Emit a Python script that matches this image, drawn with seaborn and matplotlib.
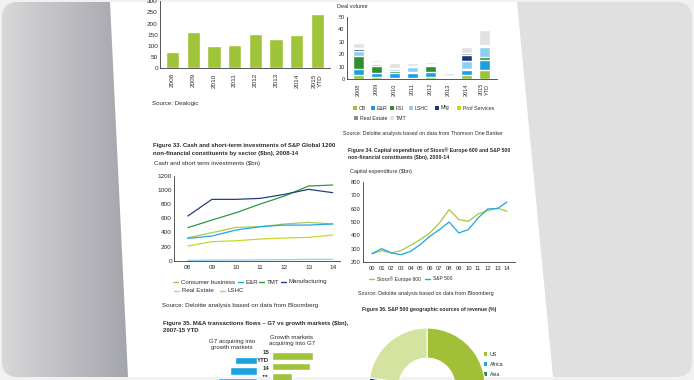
import numpy as np
import pandas as pd
import matplotlib
matplotlib.use("Agg")
import matplotlib.pyplot as plt
import seaborn as sns
from matplotlib.colors import LinearSegmentedColormap
from matplotlib.patches import FancyBboxPatch, Polygon, Rectangle


W, H = 694, 380

# Figure 32-ish: deal value bars (top left)
deal_years = ["2008", "2009", "2010", "2011", "2012", "2013", "2014", "2015\nYTD"]
deal_value = [72, 161, 100, 103, 155, 130, 150, 243]

# deal volume by sector (top right), stacked bottom -> top
sectors = ["CB", "E&R", "FSI", "LSHC", "Mfg", "Prof Services", "Real Estate", "TMT"]
sector_colors = ["#9bc23c", "#1a9fe0", "#2f8f2f", "#8dcff0", "#1c3578", "#c9d520", "#8a8a8a", "#e2e2e2"]
vol_cb = [3.4, 1.7, 1.2, 1.1, 1.4, 1.2, 2.9, 7.2]
vol_er = [5.0, 3.0, 3.6, 3.7, 4.6, 0.4, 4.2, 8.0]
vol_fsi = [10.4, 5.7, 1.4, 0.9, 4.1, 0.0, 0.9, 2.4]
vol_lshc = [3.4, 1.9, 1.6, 3.7, 1.1, 0.5, 6.7, 7.7]
vol_mfg = [1.8, 0.8, 0.5, 0.4, 0.4, 0.0, 4.2, 0.5]
vol_prof = [0.5, 0.0, 0.0, 0.0, 0.0, 0.0, 0.7, 0.5]
vol_re = [0.3, 0.5, 0.5, 0.7, 0.7, 0.3, 0.9, 0.9]
vol_tmt = [4.4, 1.7, 3.8, 2.3, 1.6, 2.7, 5.4, 12.0]

# Figure 33: cash and short-term investments ($bn)
cash_years = ["08", "09", "10", "11", "12", "13", "14"]
cash_consumer = [326, 397, 472, 482, 520, 543, 520]
cash_er = [316, 350, 435, 482, 505, 505, 520]
cash_tmt = [468, 576, 680, 803, 916, 1058, 1072]
cash_mfg = [633, 869, 869, 883, 940, 1011, 964]
cash_re = [5, 8, 10, 12, 15, 18, 20]
cash_lshc = [208, 269, 283, 307, 321, 331, 364]

# Figure 34: capital expenditure ($bn)
capex_years = ["00", "01", "02", "03", "04", "05", "06", "07",
               "08", "09", "10", "11", "12", "13", "14"]
capex_stoxx = [262, 285, 268, 285, 325, 368, 418, 493, 593, 518, 505, 560, 585, 605, 580]
capex_sp = [262, 300, 268, 255, 280, 330, 393, 443, 500, 418, 443, 530, 598, 600, 650]

# Figure 35: M&A flows ($bn), visible rows only
flow_years = ["15\nYTD", "14", "13"]
flow_g7 = [44, 54, 78]
flow_growth = [82, 76, 40]

# Figure 36: S&P 500 revenue sources (%)
rev_labels = ["US", "Africa", "Asia", "Europe", "Other"]
rev_share = [62.1, 1.6, 8.0, 5.5, 22.8]
rev_colors = ["#a2c037", "#1aa6e6", "#2e8b3a", "#1c3578", "#d5e3a0"]

TEXT = "#2b2b2b"
AXIS = "#3a3a3a"
BAR_GREEN = "#9fc43a"

sns.set_theme(style="white")
plt.rcParams["font.family"] = ["Liberation Sans", "DejaVu Sans"]

fig = plt.figure(figsize=(W / 100, H / 100), dpi=100, facecolor="#f1f1f1")


def px_axes(left, top, right, bottom):
    ax = fig.add_axes([left / W, 1 - bottom / H, (right - left) / W, (bottom - top) / H])
    ax.set_facecolor("none")
    return ax


def style_axes(ax, size):
    sns.despine(ax=ax)
    for s in ("left", "bottom"):
        ax.spines[s].set_color(AXIS)
        ax.spines[s].set_linewidth(0.6)
    ax.tick_params(length=0, labelsize=size, colors=TEXT, pad=1.5)
    ax.set_xlabel("")
    ax.set_ylabel("")
    ax.grid(False)


# ---- background, frame and page ----
bg = fig.add_axes([0, 0, 1, 1])
bg.axis("off")
frame = FancyBboxPatch((2, 2), W - 4, H - 5, boxstyle="round,pad=0,rounding_size=16",
                       fc="#e0e0e0", ec="none", zorder=0)
bg.add_patch(frame)
side = LinearSegmentedColormap.from_list("side", ["#d8d8da", "#a3a3ab"])
im = bg.imshow(np.linspace(0, 1, 256)[None, :], extent=(2, 132, H - 3, 2),
               cmap=side, aspect="auto", zorder=0.5)
im.set_clip_path(frame)
bg.add_patch(Polygon([(110, 2), (517, 2), (553, H - 3), (128, H - 3)], closed=True,
                     fc="white", ec="none", zorder=1))
bg.set_xlim(0, W)
bg.set_ylim(H, 0)


def txt(x, y, s, size=4.4, weight="normal", **kw):
    bg.text(x, y, s, fontsize=size, fontweight=weight, color=TEXT, va="center", **kw)


# ---- top left: deal value ----
ax1 = px_axes(160, 68.3 - 300 * 0.224, 330, 68.3)
df1 = pd.DataFrame({"year": deal_years, "value": deal_value})
sns.barplot(data=df1, x="year", y="value", color=BAR_GREEN, saturation=1, width=0.64, ax=ax1)
ax1.set_ylim(0, 300)
ax1.set_xlim(-0.6, 7.6)
ax1.set_yticks(range(0, 301, 50))
style_axes(ax1, 4.6)
ax1.tick_params(axis="x", pad=3.5)
for lab in ax1.get_xticklabels():
    lab.set_rotation(90)
    lab.set_va("top")
txt(152, 103, "Source: Dealogic", 4.4)

# ---- top right: deal volume, stacked ----
ax2 = px_axes(346.7, 16.7, 497, 79)
vol = pd.DataFrame({"year": deal_years, "CB": vol_cb, "E&R": vol_er, "FSI": vol_fsi,
                    "LSHC": vol_lshc, "Mfg": vol_mfg, "Prof Services": vol_prof,
                    "Real Estate": vol_re, "TMT": vol_tmt})
tops = vol[sectors].cumsum(axis=1)
tops["year"] = vol["year"]
for sec, col in reversed(list(zip(sectors, sector_colors))):
    sns.barplot(data=tops, x="year", y=sec, color=col, saturation=1, width=0.62, ax=ax2)
ax2.set_ylim(0, 50)
ax2.set_xlim(-0.64, 7.7)
ax2.set_yticks(range(0, 51, 10))
style_axes(ax2, 4.0)
ax2.tick_params(axis="x", pad=3)
for lab in ax2.get_xticklabels():
    lab.set_rotation(90)
    lab.set_va("top")
txt(337, 6, "Deal volume", 4.0)

legend_pos = [(355, 108), (373, 108), (392, 108), (411, 108), (437, 108), (459, 108),
              (356, 118), (392, 118)]
for (x, y), sec, col in zip(legend_pos, sectors, sector_colors):
    bg.add_patch(Rectangle((x - 1.5, y - 2), 3.2, 4, fc=col, ec="none", zorder=2))
    txt(x + 4, y, sec, 3.8)
txt(343, 134, "Source: Deloitte analysis based on data from Thomson One Banker", 3.8)

# ---- Figure 33 ----
txt(153, 145, "Figure 33. Cash and short-term investments of S&P Global 1200", 4.3, "bold")
txt(153, 154, "non-financial constituents by sector ($bn), 2008-14", 4.3, "bold")
txt(154, 164, "Cash and short term investments ($bn)", 4.4)

cash_names = ["Consumer business", "E&R", "TMT", "Manufacturing", "Real Estate", "LSHC"]
cash_palette = dict(zip(cash_names, ["#a9cb55", "#22a6e3", "#2e9a3c", "#243f85", "#93d2f2", "#c5d82a"]))
cash = pd.DataFrame({"year": cash_years, "Consumer business": cash_consumer, "E&R": cash_er,
                     "TMT": cash_tmt, "Manufacturing": cash_mfg, "Real Estate": cash_re,
                     "LSHC": cash_lshc})
cash_long = cash.melt(id_vars="year", var_name="sector", value_name="value")
ax3 = px_axes(174, 176, 340, 260.7)
sns.lineplot(data=cash_long, x="year", y="value", hue="sector", palette=cash_palette,
             linewidth=0.9, legend=False, sort=False, ax=ax3)
ax3.set_ylim(0, 1200)
ax3.set_xlim(-0.57, 6.3)
ax3.set_yticks(range(0, 1201, 200))
style_axes(ax3, 4.6)
ax3.tick_params(axis="x", pad=3)

cash_leg = [(176, 282, "Consumer business"), (241, 282, "E&R"), (262, 282, "TMT"),
            (284, 282, "Manufacturing"), (177, 291, "Real Estate"), (223, 291, "LSHC")]
for x, y, name in cash_leg:
    bg.plot([x - 2.5, x + 2.5], [y, y], color=cash_palette[name], lw=1.0, zorder=2)
    txt(x + 5, y, name, 4.4)
txt(162, 306, "Source: Deloitte analysis based on data from Bloomberg", 4.5)

# ---- Figure 34 ----
txt(348, 150, "Figure 34. Capital expenditure of Stoxx® Europe 600 and S&P 500", 3.7, "bold")
txt(348, 158, "non-financial constituents ($bn), 2000-14", 3.7, "bold")
txt(350, 172, "Capital expenditure ($bn)", 4.0)

capex = pd.DataFrame({"year": capex_years, "Stoxx® Europe 600": capex_stoxx, "S&P 500": capex_sp})
capex_long = capex.melt(id_vars="year", var_name="index", value_name="value")
capex_palette = {"Stoxx® Europe 600": "#a5c93c", "S&P 500": "#1aa6e6"}
ax4 = px_axes(363, 182, 515, 262)
sns.lineplot(data=capex_long, x="year", y="value", hue="index", palette=capex_palette,
             linewidth=0.9, legend=False, sort=False, ax=ax4)
ax4.set_ylim(200, 800)
ax4.set_xlim(-0.93, 14.83)
ax4.set_yticks(range(200, 801, 100))
style_axes(ax4, 4.2)
ax4.tick_params(axis="x", pad=3)

for x, name in [(372, "Stoxx® Europe 600"), (428, "S&P 500")]:
    bg.plot([x - 2.5, x + 2.5], [279, 279], color=capex_palette[name], lw=1.0, zorder=2)
    txt(x + 5, 279, name, 3.6)
txt(358, 293, "Source: Deloitte analysis based on data from Bloomberg", 3.9)

# ---- Figure 35 ----
txt(163, 323, "Figure 35. M&A transactions flows \u2013 G7 vs growth markets ($bn),", 4.3, "bold")
txt(163, 331, "2007-15 YTD", 4.3, "bold")
bg.text(232, 344.5, "G7 acquiring into\ngrowth markets", fontsize=4.4, color=TEXT,
        ha="center", va="center", linespacing=1.1)
bg.text(292, 340.5, "Growth markets\nacquiring into G7", fontsize=4.4, color=TEXT,
        ha="center", va="center", linespacing=1.1)

flows = pd.DataFrame({"year": flow_years, "g7": flow_g7, "growth": flow_growth})
axr = px_axes(272, 350.75, 332, 382.25)
sns.barplot(data=flows, x="growth", y="year", orient="h", color="#9fc43a", saturation=1,
            width=0.76, ax=axr)
axr.set_xlim(0, 120)
axr.set_ylim(2.5, -0.5)
axr.axis("off")
axl = px_axes(197, 355.25, 257, 386.75)
sns.barplot(data=flows, x="g7", y="year", orient="h", color="#1aa3e0", saturation=1,
            width=0.72, ax=axl)
axl.set_xlim(120, 0)
axl.set_ylim(2.5, -0.5)
axl.axis("off")
for y, s in [(353, "15"), (360, "YTD"), (368.5, "14"), (377.5, "13")]:
    bg.text(269, y, s, fontsize=4.4, color=TEXT, ha="right", va="center", fontweight="bold")

# ---- Figure 36 ----
txt(362, 310, "Figure 36. S&P 500 geographic sources of revenue (%)", 3.7, "bold")
axp = px_axes(369, 328, 485, 444)
axp.pie(rev_share, colors=rev_colors, startangle=90, counterclock=False,
        wedgeprops=dict(width=0.52, edgecolor="white", linewidth=0.8))
axp.set_xlim(-1, 1)
axp.set_ylim(-1, 1)
txt(398, 349, "22.8%", 4.2, ha="center")
for y, lab, col in zip([354, 364, 374], rev_labels[:3], rev_colors[:3]):
    bg.add_patch(Rectangle((484, y - 2), 3.2, 4, fc=col, ec="none", zorder=2))
    txt(490, y, lab, 3.8)

# bottom strip of the frame sits over the page edge
bg.add_patch(Rectangle((0, H - 3), W, 3, fc="#f1f1f1", ec="none", zorder=5))

fig.savefig("out.png", dpi=100, facecolor=fig.get_facecolor())
